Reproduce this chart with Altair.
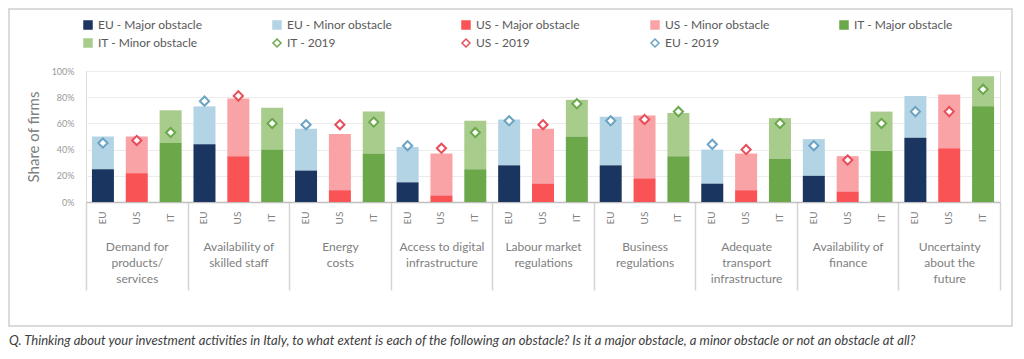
import altair as alt
import pandas as pd

groups = ["Demand for|products/|services", "Availability of|skilled staff", "Energy|costs",
          "Access to digital|infrastructure", "Labour market|regulations", "Business|regulations",
          "Adequate|transport|infrastructure", "Availability of|finance", "Uncertainty|about the|future"]
countries = ["EU", "US", "IT"]

eu_major = [25, 44, 24, 15, 28, 28, 14, 20, 49]
eu_total = [50, 73, 56, 42, 63, 65, 40, 48, 81]
eu_2019 = [45, 77, 59, 43, 62, 62, 44, 43, 69]
us_major = [22, 35, 9, 5, 14, 18, 9, 8, 41]
us_total = [50, 79, 52, 37, 56, 66, 37, 35, 82]
us_2019 = [47, 81, 59, 41, 59, 63, 40, 32, 69]
it_major = [45, 40, 37, 25, 50, 35, 33, 39, 73]
it_total = [70, 72, 69, 62, 78, 68, 64, 69, 96]
it_2019 = [53, 60, 61, 53, 75, 69, 60, 60, 86]

legend_order = ["EU - Major obstacle", "EU - Minor obstacle", "US - Major obstacle", "US - Minor obstacle",
                "IT - Major obstacle", "IT - Minor obstacle", "IT - 2019", "US - 2019", "EU - 2019"]
fill_colors = ["#1a3560", "#b3d4e5", "#fa5356", "#f9a3a6", "#6aa84a", "#a8cc8c", "#ffffff", "#ffffff", "#ffffff"]
stroke_colors = ["#1a3560", "#b3d4e5", "#fa5356", "#f9a3a6", "#6aa84a", "#a8cc8c", "#6aa84a", "#e84d5a", "#6ba3c3"]
shapes = ["square"] * 6 + ["diamond"] * 3
y_ticks = [0, 20, 40, 60, 80, 100]

footnote = ("Q. Thinking about your investment activities in Italy, to what extent is each of the following "
            "an obstacle? Is it a major obstacle, a minor obstacle or not an obstacle at all?")

rows = []
series = {"EU": (eu_major, eu_total, eu_2019), "US": (us_major, us_total, us_2019), "IT": (it_major, it_total, it_2019)}
for i, g in enumerate(groups):
    for c in countries:
        mj, tt, y19 = series[c]
        rows.append({"group": g, "country": c, "major": mj[i], "total": tt[i], "y2019": y19[i]})
df = pd.DataFrame(rows)

FONT = "Lato"
W, H = 914, 131

x = alt.X("group:N", sort=groups, scale=alt.Scale(paddingInner=0, paddingOuter=0),
          axis=alt.Axis(title=None, labelAngle=0, labelExpr="split(datum.label, '|')",
                        labelFont=FONT, labelFontSize=12, labelColor="#808080", labelLineHeight=16,
                        labelPadding=-49, tickBand="extent", tickExtra=True, tickSize=88,
                        tickColor="#d4d4d4", tickWidth=1.5, domainColor="#bfbfbf", domainWidth=1.5,
                        grid=False, labelBaseline="top"))
xo = alt.XOffset("country:N", sort=countries, scale=alt.Scale(paddingInner=0.35, paddingOuter=0.175))
yscale = alt.Scale(domain=[0, 100])
yaxis = alt.Axis(title="Share of firms", values=y_ticks, labelExpr="datum.value + '%'",
                 labelFont=FONT, labelFontSize=9, labelColor="#999999", labelPadding=12, labelOverlap=False,
                 titleFont=FONT, titleFontSize=15, titleFontWeight="normal", titleColor="#808080",
                 titlePadding=10, domain=False, ticks=False, gridColor="#ececec")

legend = alt.Legend(title=None, orient="none", legendX=-4, legendY=-52, direction="horizontal", columns=5,
                    gridAlign="all", columnPadding=66, rowPadding=4, padding=0,
                    labelFont=FONT, labelFontSize=12, labelColor="#595959", symbolSize=64,
                    symbolStrokeWidth=1.5, symbolOpacity=1)
fill_scale = alt.Scale(domain=legend_order, range=fill_colors)
stroke_scale = alt.Scale(domain=legend_order, range=stroke_colors)
shape_scale = alt.Scale(domain=legend_order, range=shapes)

base = alt.Chart(df)

minor = base.transform_calculate(series="datum.country + ' - Minor obstacle'").mark_bar().encode(
    x=x, xOffset=xo,
    y=alt.Y("major:Q", scale=yscale, axis=yaxis),
    y2="total:Q",
    fill=alt.Fill("series:N", scale=fill_scale, legend=legend))

major = base.transform_calculate(series="datum.country + ' - Major obstacle'").mark_bar().encode(
    x=x, xOffset=xo,
    y=alt.Y("major:Q", scale=yscale, stack=None, axis=yaxis),
    fill=alt.Fill("series:N", scale=fill_scale, legend=legend))

points = base.transform_calculate(series="datum.country + ' - 2019'").mark_point(
    filled=False, fill="white", fillOpacity=1, size=85, strokeWidth=2, opacity=1).encode(
    x=x, xOffset=xo,
    y=alt.Y("y2019:Q", scale=yscale, axis=yaxis),
    stroke=alt.Stroke("series:N", scale=stroke_scale, legend=legend),
    shape=alt.Shape("series:N", scale=shape_scale, legend=legend))

clabels = base.mark_text(angle=270, fontSize=10, font=FONT, color="#808080", align="center", baseline="middle").encode(
    x=x, xOffset=xo, y=alt.value(H + 16), text="country:N")

frame = alt.Chart(pd.DataFrame({"k": [0]})).mark_rect(fill=None, stroke="#cfcfcf", strokeWidth=1.5).encode(
    x=alt.value(-77), x2=alt.value(926), y=alt.value(-62), y2=alt.value(255))

foot = alt.Chart(pd.DataFrame({"t": [footnote]})).mark_text(
    align="left", baseline="middle", font=FONT, fontStyle="italic", fontSize=13.1,
    color="#404040").encode(x=alt.value(-77), y=alt.value(270), text="t:N")

chart = alt.layer(frame, minor, major, points, clabels, foot).properties(
    width=W, height=H,
    padding={"left": 78, "top": 63, "right": 16, "bottom": 145},
    autosize=alt.AutoSizeParams(type="none"),
    background="white",
).configure_view(stroke="#dcdcdc", strokeWidth=1)

chart.save("out.html", embed_options={"renderer": "svg", "actions": False})
